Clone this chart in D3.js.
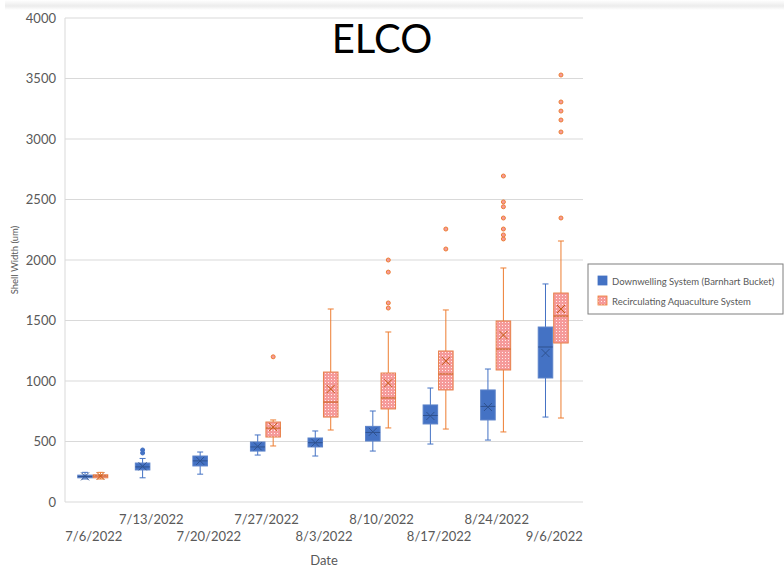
<!DOCTYPE html>
<html><head><meta charset="utf-8">
<script src="https://cdn.jsdelivr.net/npm/d3@7/dist/d3.min.js"></script>
<style>
body{margin:0;background:#fff;}
svg{display:block;font-family:Lato,"Open Sans",sans-serif;}
</style></head>
<body>
<svg id="chart" width="784" height="569"></svg>
<script>
const categories = ["7/6/2022","7/13/2022","7/20/2022","7/27/2022","8/3/2022","8/10/2022","8/17/2022","8/24/2022","9/6/2022"];
const seriesNames = ["Downwelling System (Barnhart Bucket)","Recirculating Aquaculture System"];
const yTicks = [0,500,1000,1500,2000,2500,3000,3500,4000];

// Downwelling System
const dwMin    = [190, 200, 230, 388, 380, 421, 479, 512, 702];
const dwQ1     = [200, 265, 298, 421, 455, 504, 645, 678, 1025];
const dwMedian = [210, 290, 340, 455, 490, 575, 715, 790, 1281];
const dwQ3     = [222, 322, 380, 496, 529, 625, 802, 926, 1446];
const dwMax    = [245, 360, 413, 554, 587, 752, 942, 1099, 1802];
const dwMean   = [212, 295, 340, 460, 490, 580, 711, 785, 1231];
const dwOutliers = [[], [405, 430], [], [], [], [], [], [], []];

// Recirculating Aquaculture System
const rasMin    = [190, null, null, 463, 595, 612, 603, 579, 694];
const rasQ1     = [200, null, null, 537, 702, 769, 926, 1091, 1314];
const rasMedian = [215, null, null, 611, 826, 860, 1058, 1264, 1537];
const rasQ3     = [225, null, null, 661, 1074, 1066, 1248, 1496, 1727];
const rasMax    = [245, null, null, 678, 1595, 1405, 1587, 1934, 2157];
const rasMean   = [215, null, null, 620, 934, 983, 1165, 1380, 1595];
const rasOutliers = [[], [], [], [1200], [], [1603, 1645, 1900, 2000], [2091, 2256],
  [2174, 2207, 2256, 2347, 2440, 2480, 2694], [2347, 3058, 3157, 3231, 3306, 3529]];

const svg = d3.select("#chart");
const pLeft = 65, pRight = 583, pTop = 18, pBottom = 502;

// top shadow band
const defs = svg.append("defs");
const grad = defs.append("linearGradient").attr("id","shadow").attr("x1",0).attr("y1",0).attr("x2",0).attr("y2",1);
grad.append("stop").attr("offset","0%").attr("stop-color","#ffffff");
grad.append("stop").attr("offset","60%").attr("stop-color","#ececec");
grad.append("stop").attr("offset","100%").attr("stop-color","#ffffff");
svg.append("rect").attr("x",5).attr("y",0).attr("width",779).attr("height",10).attr("fill","url(#shadow)");

const pat = defs.append("pattern").attr("id","dots").attr("patternUnits","userSpaceOnUse").attr("width",3).attr("height",3);
pat.append("rect").attr("width",3).attr("height",3).attr("fill","#f59a9a");
pat.append("rect").attr("x",1).attr("y",1).attr("width",1).attr("height",1).attr("fill","#ffecec");

const x0 = d3.scaleBand().domain(categories).range([pLeft, pRight]);
const x1 = d3.scaleBand().domain(seriesNames)
  .range([x0.bandwidth()/2 - 16, x0.bandwidth()/2 + 14]).paddingInner(0.06);
const y = d3.scaleLinear().domain([0, 4000]).range([pBottom, pTop]);

// gridlines
svg.append("g").selectAll("line").data(yTicks).join("line")
  .attr("x1", pLeft).attr("x2", pRight)
  .attr("y1", d => y(d)).attr("y2", d => y(d))
  .attr("stroke", "#d9d9d9").attr("stroke-width", 1);
svg.append("line").attr("x1", pLeft).attr("x2", pLeft).attr("y1", pTop).attr("y2", pBottom)
  .attr("stroke", "#d9d9d9");

// y axis
const yAxis = d3.axisLeft(y).tickValues(yTicks).tickFormat(d3.format("d")).tickSize(0).tickPadding(9);
const yg = svg.append("g").attr("transform", `translate(${pLeft},0)`).call(yAxis);
yg.select(".domain").remove();
yg.selectAll("text").attr("font-size", 13).attr("fill", "#595959").attr("font-family","Lato,sans-serif");

// x axis labels (staggered)
const xAxis = d3.axisBottom(x0).tickSize(0).tickPadding(0);
const xg = svg.append("g").attr("transform", `translate(0,${pBottom})`).call(xAxis);
xg.select(".domain").remove();
xg.selectAll("text")
  .attr("font-size", 13).attr("fill", "#595959").attr("font-family","Lato,sans-serif")
  .attr("dy", null)
  .attr("y", (d, i) => i % 2 === 0 ? 39 : 22);

const series = [
  {name: seriesNames[0], min: dwMin, q1: dwQ1, med: dwMedian, q3: dwQ3, max: dwMax, mean: dwMean, out: dwOutliers,
   fill: "#4472c4", stroke: "#5b82c9", line: "#4472c4", meanColor: "#2f528f", outFill: "#4472c4"},
  {name: seriesNames[1], min: rasMin, q1: rasQ1, med: rasMedian, q3: rasQ3, max: rasMax, mean: rasMean, out: rasOutliers,
   fill: "url(#dots)", stroke: "#e8804a", line: "#ed7d31", meanColor: "#c55a11", outFill: "#f59a9a"}
];

series.forEach(s => {
  const g = svg.append("g");
  const w = x1.bandwidth();
  categories.forEach((c, i) => {
    if (s.min[i] == null) return;
    const cx = x0(c) + x1(s.name) + w/2;
    const bx = x0(c) + x1(s.name);
    g.append("line").attr("x1", cx).attr("x2", cx).attr("y1", y(s.max[i])).attr("y2", y(s.q3[i]))
      .attr("stroke", s.line).attr("stroke-width", 1);
    g.append("line").attr("x1", cx).attr("x2", cx).attr("y1", y(s.q1[i])).attr("y2", y(s.min[i]))
      .attr("stroke", s.line).attr("stroke-width", 1);
    [s.max[i], s.min[i]].forEach(v => {
      g.append("line").attr("x1", cx - 3).attr("x2", cx + 3).attr("y1", y(v)).attr("y2", y(v))
        .attr("stroke", s.line).attr("stroke-width", 1);
    });
    g.append("rect").attr("x", bx).attr("width", w)
      .attr("y", y(s.q3[i])).attr("height", Math.max(1, y(s.q1[i]) - y(s.q3[i])))
      .attr("fill", s.fill).attr("stroke", s.stroke).attr("stroke-width", 1);
    g.append("line").attr("x1", bx).attr("x2", bx + w).attr("y1", y(s.med[i])).attr("y2", y(s.med[i]))
      .attr("stroke", s.meanColor).attr("stroke-width", 1);
    const my = y(s.mean[i]);
    g.append("path").attr("d", `M${cx-4},${my-4}L${cx+4},${my+4}M${cx-4},${my+4}L${cx+4},${my-4}`)
      .attr("stroke", s.meanColor).attr("stroke-width", 1).attr("fill", "none");
    s.out[i].forEach(v => {
      g.append("circle").attr("cx", cx).attr("cy", y(v)).attr("r", 2)
        .attr("fill", s.outFill).attr("stroke", s.line).attr("stroke-width", 1);
    });
  });
});

// title
svg.append("text").attr("x", 382).attr("y", 53).attr("text-anchor", "middle")
  .attr("font-size", 40).attr("fill", "#000").attr("font-family","Lato,sans-serif").text("ELCO");

// axis titles
svg.append("text").attr("x", (pLeft + pRight)/2).attr("y", 565).attr("text-anchor", "middle")
  .attr("font-size", 13).attr("fill", "#595959").text("Date");
svg.append("text").attr("transform", "translate(18,260) rotate(-90)").attr("text-anchor", "middle")
  .attr("font-size", 9.5).attr("fill", "#595959").text("Shell Width (um)");

// legend
const lg = svg.append("g");
lg.append("rect").attr("x", 588).attr("y", 264).attr("width", 195).attr("height", 50)
  .attr("fill", "#fff").attr("stroke", "#7f7f7f").attr("stroke-width", 1);
const legendFills = ["#4472c4", "url(#dots)"];
const legendStrokes = ["#4472c4", "#ed7d31"];
seriesNames.forEach((n, i) => {
  const ly = 281 + i * 20;
  lg.append("rect").attr("x", 598).attr("y", ly - 5).attr("width", 9).attr("height", 9)
    .attr("fill", legendFills[i]).attr("stroke", legendStrokes[i]).attr("stroke-width", 0.8);
  lg.append("text").attr("x", 612).attr("y", ly + 4).attr("font-size", 9.5)
    .attr("fill", "#595959").text(n);
});
</script>
</body></html>
